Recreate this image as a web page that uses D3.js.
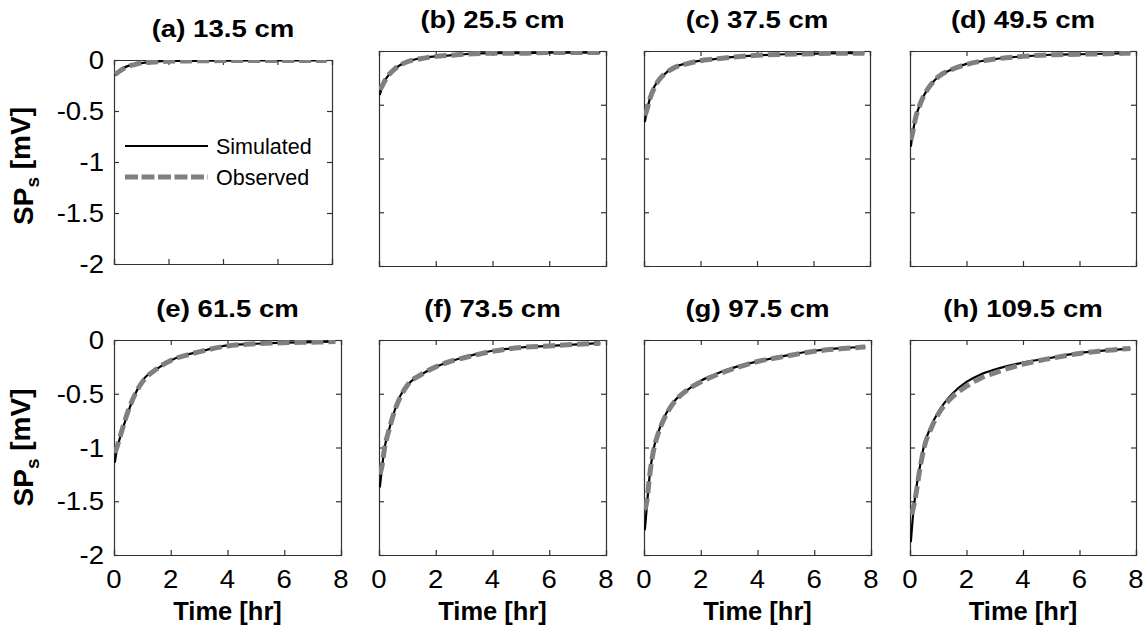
<!DOCTYPE html>
<html>
<head>
<meta charset="utf-8">
<script src="https://cdn.jsdelivr.net/npm/d3@7"></script>
<style>
  html, body { margin: 0; padding: 0; background: #fff; }
  svg { display: block; font-family: "Liberation Sans", Arial, Helvetica, sans-serif; }
</style>
</head>
<body>
<svg id="chart" width="1146" height="632"></svg>
<script>
// ---------------- data ----------------
const panelTitles = ["(a) 13.5 cm", "(b) 25.5 cm", "(c) 37.5 cm", "(d) 49.5 cm",
                     "(e) 61.5 cm", "(f) 73.5 cm", "(g) 97.5 cm", "(h) 109.5 cm"];
const timeHr = [0.03, 0.1, 0.2, 0.35, 0.5, 0.75, 1.0, 1.5, 2.0, 2.5, 3.0, 4.0, 5.0, 6.0, 7.0, 7.8];

const simA = [-0.15, -0.13, -0.11, -0.08, -0.06, -0.04, -0.03, -0.015, -0.01, -0.01, -0.008, -0.006, -0.005, -0.005, -0.004, -0.004];
const obsA = [-0.14, -0.13, -0.11, -0.085, -0.065, -0.045, -0.03, -0.02, -0.012, -0.01, -0.008, -0.006, -0.005, -0.005, -0.004, -0.004];
const simB = [-0.41, -0.34, -0.28, -0.22, -0.18, -0.13, -0.10, -0.065, -0.05, -0.04, -0.03, -0.02, -0.02, -0.015, -0.015, -0.015];
const obsB = [-0.36, -0.33, -0.28, -0.22, -0.18, -0.13, -0.10, -0.07, -0.05, -0.04, -0.03, -0.02, -0.02, -0.015, -0.015, -0.015];
const simC = [-0.66, -0.56, -0.45, -0.34, -0.28, -0.21, -0.16, -0.115, -0.09, -0.075, -0.06, -0.04, -0.03, -0.025, -0.02, -0.02];
const obsC = [-0.60, -0.55, -0.45, -0.35, -0.28, -0.21, -0.165, -0.12, -0.09, -0.075, -0.06, -0.04, -0.03, -0.025, -0.02, -0.02];
const simD = [-0.89, -0.76, -0.62, -0.50, -0.41, -0.31, -0.24, -0.17, -0.12, -0.095, -0.075, -0.05, -0.035, -0.03, -0.025, -0.02];
const obsD = [-0.83, -0.75, -0.62, -0.50, -0.41, -0.31, -0.24, -0.17, -0.125, -0.095, -0.075, -0.05, -0.035, -0.03, -0.025, -0.02];
const simE = [-1.14, -1.02, -0.92, -0.79, -0.67, -0.50, -0.38, -0.27, -0.19, -0.14, -0.11, -0.05, -0.035, -0.025, -0.02, -0.015];
const obsE = [-1.05, -1.00, -0.91, -0.78, -0.66, -0.50, -0.39, -0.27, -0.19, -0.145, -0.11, -0.055, -0.035, -0.025, -0.02, -0.015];
const simF = [-1.37, -1.20, -1.00, -0.84, -0.70, -0.52, -0.42, -0.32, -0.25, -0.20, -0.16, -0.10, -0.07, -0.055, -0.04, -0.03];
const obsF = [-1.25, -1.18, -1.00, -0.84, -0.70, -0.53, -0.42, -0.32, -0.25, -0.20, -0.165, -0.105, -0.07, -0.055, -0.04, -0.03];
const simG = [-1.77, -1.55, -1.26, -1.00, -0.86, -0.70, -0.59, -0.47, -0.38, -0.32, -0.27, -0.20, -0.145, -0.10, -0.075, -0.065];
const obsG = [-1.58, -1.50, -1.26, -1.01, -0.87, -0.71, -0.60, -0.47, -0.39, -0.33, -0.28, -0.20, -0.15, -0.105, -0.08, -0.065];
const simH = [-1.88, -1.65, -1.42, -1.18, -0.98, -0.80, -0.67, -0.50, -0.39, -0.32, -0.275, -0.21, -0.165, -0.12, -0.095, -0.08];
const obsH = [-1.62, -1.58, -1.45, -1.20, -1.00, -0.82, -0.69, -0.53, -0.43, -0.355, -0.305, -0.225, -0.17, -0.125, -0.095, -0.08];

const simulated = [simA, simB, simC, simD, simE, simF, simG, simH];
const observed  = [obsA, obsB, obsC, obsD, obsE, obsF, obsG, obsH];

const xTicks = [0, 2, 4, 6, 8];
const yTicks = [0, -0.5, -1, -1.5, -2];
const yTickLabels = ["0", "-0.5", "-1", "-1.5", "-2"];
const legendLabels = ["Simulated", "Observed"];
const xLabel = "Time [hr]";

// ---------------- layout ----------------
const boxes = [
  {x0: 114, x1: 332, y0: 60, y1: 264},
  {x0: 379, x1: 606, y0: 51, y1: 266},
  {x0: 644, x1: 870, y0: 51, y1: 266},
  {x0: 910, x1: 1136, y0: 51, y1: 266},
  {x0: 114, x1: 341, y0: 340, y1: 555},
  {x0: 379, x1: 606, y0: 340, y1: 555},
  {x0: 644, x1: 871, y0: 340, y1: 555},
  {x0: 910, x1: 1136, y0: 340, y1: 555}
];
const axisColor = "#333";
const grey = "#808080";
const dash = "12,5";

const svg = d3.select("#chart");

function txt(g, x, y, s, size, weight, anchor, sx) {
  return g.append("text")
    .attr("transform", `translate(${x},${y}) scale(${sx},1)`)
    .attr("text-anchor", anchor)
    .style("font-size", size + "px")
    .style("font-weight", weight)
    .attr("fill", "#000")
    .text(s);
}

boxes.forEach((b, i) => {
  const x = d3.scaleLinear().domain([0, 8]).range([b.x0, b.x1]);
  const y = d3.scaleLinear().domain([-2, 0]).range([b.y1, b.y0]);
  const g = svg.append("g");

  const cid = "clip" + i;
  svg.append("clipPath").attr("id", cid).append("rect")
    .attr("x", b.x0).attr("y", b.y0).attr("width", b.x1 - b.x0).attr("height", b.y1 - b.y0);

  const tl = 5;
  const axB = d3.axisBottom(x).tickValues(xTicks).tickSize(-tl).tickFormat("");
  const axT = d3.axisTop(x).tickValues(xTicks).tickSize(-tl).tickFormat("");
  const axL = d3.axisLeft(y).tickValues(yTicks).tickSize(-tl).tickFormat("");
  const axR = d3.axisRight(y).tickValues(yTicks).tickSize(-tl).tickFormat("");
  [[axB, `translate(0,${b.y1})`], [axT, `translate(0,${b.y0})`],
   [axL, `translate(${b.x0},0)`], [axR, `translate(${b.x1},0)`]].forEach(([ax, tr]) => {
    const a = g.append("g").attr("transform", tr).call(ax);
    a.selectAll("path").attr("stroke", axisColor).attr("stroke-width", 1.2);
    a.selectAll("line").attr("stroke", axisColor).attr("stroke-width", 1.2);
  });

  const line = d3.line()
    .x((d, k) => x(timeHr[k]))
    .y(d => y(d))
    .curve(d3.curveMonotoneX);
  const lg = g.append("g").attr("clip-path", `url(#${cid})`);
  lg.append("path").datum(simulated[i]).attr("d", line)
    .attr("fill", "none").attr("stroke", "#000").attr("stroke-width", 2.2);
  lg.append("path").datum(observed[i]).attr("d", line)
    .attr("fill", "none").attr("stroke", grey).attr("stroke-width", 5)
    .attr("stroke-dasharray", dash);

  // title
  txt(g, (b.x0 + b.x1) / 2, b.y0 - 23, panelTitles[i], 24, "bold", "middle", 1.15);

  if (i % 4 === 0) {
    yTicks.forEach((v, k) => {
      txt(g, b.x0 - 10, y(v) + 9, yTickLabels[k], 25, "normal", "end", 1.1);
    });
    const cy = (b.y0 + b.y1) / 2 + (i === 0 ? 4 : 0);
    const yl = g.append("text")
      .attr("transform", `translate(33,${cy}) rotate(-90)`)
      .attr("text-anchor", "middle")
      .style("font-size", "28px").style("font-weight", "bold");
    yl.append("tspan").text("SP");
    yl.append("tspan").attr("dy", "0.3em").style("font-size", "19px").text("s");
    yl.append("tspan").attr("dy", "-0.3em").text(" [mV]");
  }
  if (i >= 4) {
    xTicks.forEach(v => txt(g, x(v), b.y1 + 33, String(v), 25, "normal", "middle", 1.1));
    txt(g, (b.x0 + b.x1) / 2, b.y1 + 65, xLabel, 25, "bold", "middle", 1.02);
  }

  if (i === 0) {
    const ly = [146, 177];
    g.append("line").attr("x1", 125).attr("x2", 208).attr("y1", ly[0]).attr("y2", ly[0])
      .attr("stroke", "#000").attr("stroke-width", 2.2);
    g.append("line").attr("x1", 125).attr("x2", 208).attr("y1", ly[1]).attr("y2", ly[1])
      .attr("stroke", grey).attr("stroke-width", 5).attr("stroke-dasharray", "13,3.5");
    txt(g, 216, ly[0] + 8, legendLabels[0], 21.5, "normal", "start", 1.0);
    txt(g, 216, ly[1] + 8, legendLabels[1], 21.5, "normal", "start", 1.0);
  }
});
</script>
</body>
</html>
